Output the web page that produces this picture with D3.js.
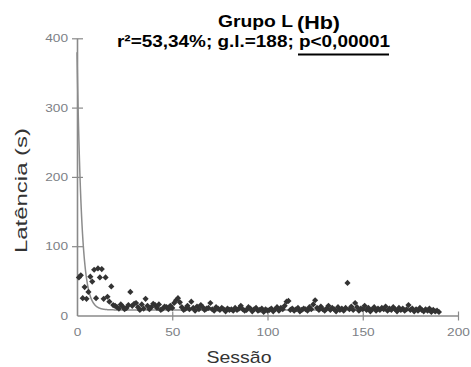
<!DOCTYPE html>
<html><head><meta charset="utf-8">
<script src="https://cdn.jsdelivr.net/npm/d3@7"></script>
<style>body{margin:0;background:#fff}svg{display:block}</style>
</head><body><svg id="c" width="471" height="367"></svg>
<script>
// Latency (s) per session, sessions 1..190
const sessions = d3.range(1, 191);
const latency = [
  55, 58, 25, 41, 24, 34, 56, 49, 66, 25, 68, 55, 67, 24, 55, 27, 20, 42, 15, 14,
  12, 10, 16, 13, 9, 11, 15, 34, 14, 17, 18, 12, 8, 16, 10, 24, 14, 9, 12, 17,
  15, 11, 16, 8, 10, 13, 12, 9, 14, 11, 18, 22, 25, 19, 12, 8, 10, 14, 9, 20,
  11, 7, 13, 9, 15, 12, 8, 10, 11, 18, 9, 7, 12, 10, 8, 11, 9, 6, 10, 8,
  9, 7, 11, 8, 10, 14, 9, 7, 8, 12, 10, 6, 9, 11, 7, 8, 10, 5, 9, 7,
  8, 10, 6, 9, 12, 7, 11, 9, 14, 20, 21, 8, 10, 7, 9, 11, 6, 8, 10, 9,
  7, 12, 9, 16, 22, 11, 8, 13, 9, 7, 10, 14, 8, 11, 9, 6, 12, 8, 10, 7,
  11, 47, 9, 13, 8, 18, 12, 7, 10, 9, 14, 8, 11, 6, 9, 12, 7, 10, 8, 11,
  9, 13, 7, 10, 8, 12, 9, 6, 11, 8, 10, 7, 9, 15, 8, 10, 6, 9, 7, 11,
  8, 6, 9, 7, 10, 5, 8, 6, 7, 5
];
const xTicks = [0, 50, 100, 150, 200];
const yTicks = [0, 100, 200, 300, 400];
// fitted decay model: c + a * exp(-k * s)
const fitA = 372, fitK = 0.42, fitC = 8;

const svg = d3.select("#c");
const x = d3.scaleLinear().domain([0, 200]).range([77, 458]);
const y = d3.scaleLinear().domain([0, 400]).range([315.5, 38.3]);
const axisCol = "#8a8a8a";
const font = "'Liberation Sans', Arial, sans-serif";

// axes
const xa = svg.append("g").attr("transform", "translate(0,315.5)")
  .call(d3.axisBottom(x).tickValues(xTicks).tickSizeInner(5).tickSizeOuter(0).tickPadding(8));
const ya = svg.append("g").attr("transform", "translate(77,0)")
  .call(d3.axisLeft(y).tickValues(yTicks).tickSizeInner(6).tickSizeOuter(0).tickPadding(3));
[xa, ya].forEach(g => {
  g.select(".domain").attr("stroke", axisCol).attr("stroke-width", 1.6);
  g.selectAll(".tick line").attr("stroke", axisCol).attr("stroke-width", 1.2);
  g.selectAll(".tick text").attr("fill", "#7d7f86").style("font-family", font).style("font-size", "11px")
    .attr("textLength", d => String(d).length * 7.6).attr("lengthAdjust", "spacingAndGlyphs");
});
// ticks cross the axis lines
xa.selectAll(".tick line").attr("y1", -4).attr("y2", 5);
xa.selectAll(".tick").filter(d => d === 0).select("line").remove();
ya.selectAll(".tick line").attr("x1", -5).attr("x2", 6);
ya.selectAll(".tick").filter(d => d === 0).select("line").remove();

// fitted curve
const fitPts = d3.range(0, 190.01, 0.1).map(s => [s, fitC + fitA * Math.exp(-fitK * s)]);
svg.append("path").datum(fitPts)
  .attr("fill", "none").attr("stroke", "#8c8c8c").attr("stroke-width", 1.5)
  .attr("d", d3.line().x(d => x(d[0])).y(d => y(d[1])));

// data points as diamonds
svg.append("g").selectAll("path").data(sessions)
  .join("path")
  .attr("d", d3.symbol().type(d3.symbolSquare).size(19))
  .attr("transform", (s, i) => `translate(${x(s)},${y(latency[i])}) rotate(45)`)
  .attr("fill", "#333");

// axis titles
svg.append("text").attr("x", 206.5).attr("y", 363)
  .attr("textLength", 65).attr("lengthAdjust", "spacingAndGlyphs")
  .style("font-family", font).style("font-size", "17px").attr("fill", "#333").text("Sessão");
svg.append("text").attr("transform", "translate(27,253) rotate(-90)")
  .attr("textLength", 125).attr("lengthAdjust", "spacingAndGlyphs")
  .style("font-family", font).style("font-size", "16px").attr("fill", "#333").text("Latência (s)");

// title block
svg.append("text").attr("x", 218).attr("y", 27).attr("textLength", 75).attr("lengthAdjust", "spacingAndGlyphs")
  .style("font-family", font).style("font-weight", "bold").style("font-size", "16px").attr("fill", "#000").text("Grupo L");
svg.append("text").attr("x", 297).attr("y", 29).attr("textLength", 43).attr("lengthAdjust", "spacingAndGlyphs")
  .style("font-family", font).style("font-weight", "bold").style("font-size", "19px").attr("fill", "#000").text("(Hb)");
svg.append("text").attr("x", 117).attr("y", 47).attr("textLength", 273).attr("lengthAdjust", "spacingAndGlyphs")
  .style("font-family", font).style("font-weight", "bold")
  .style("font-size", "16px").attr("fill", "#000").text("r²=53,34%; g.l.=188; p<0,00001");
svg.append("line").attr("x1", 298).attr("x2", 389).attr("y1", 54.5).attr("y2", 54.5)
  .attr("stroke", "#000").attr("stroke-width", 2);
</script></body></html>
